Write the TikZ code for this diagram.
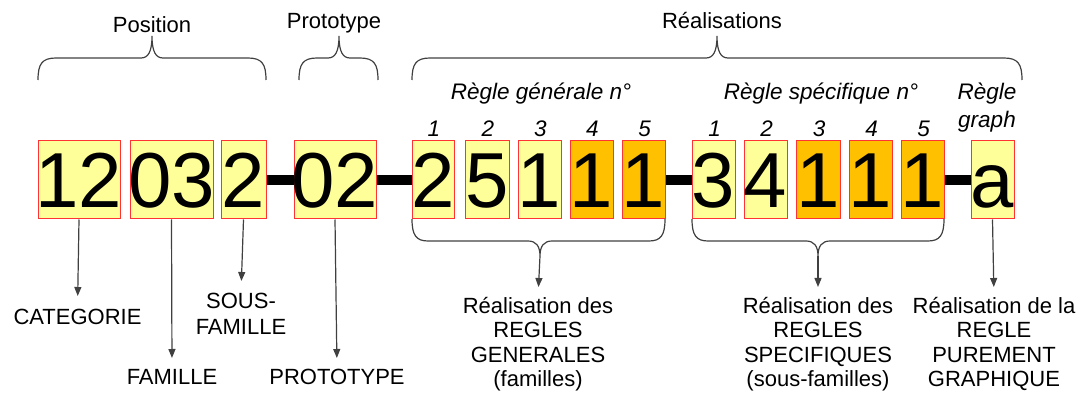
\documentclass[tikz,border=0pt]{standalone}
\usepackage{fontspec}
\setmainfont{Liberation Sans}
\usetikzlibrary{arrows.meta}
\definecolor{lyel}{HTML}{FFFF99}
\definecolor{orng}{HTML}{FFC000}
\definecolor{boxred}{HTML}{FF3333}
\definecolor{lgray}{HTML}{404040}
\newcommand\dg[1]{\makebox[0pt]{#1}}
\newcommand\tbrace[3]{%
  \draw[brace] (#1,80) .. controls (#1,64) and (#1+4,58) .. (#1+18,58) -- (#2-11,58)
    .. controls (#2-4,58) and (#2,52) .. (#2,36)
    .. controls (#2,52) and (#2+4,58) .. (#2+11,58) -- (#3-18,58)
    .. controls (#3-4,58) and (#3,64) .. (#3,80);}
\newcommand\bbrace[3]{%
  \draw[brace] (#1,219) .. controls (#1,235) and (#1+4,241) .. (#1+16,241) -- (#2-12,241)
    .. controls (#2-4,241) and (#2,246) .. (#2,256)
    .. controls (#2,246) and (#2+4,241) .. (#2+12,241) -- (#3-16,241)
    .. controls (#3-4,241) and (#3,235) .. (#3,219);}
\begin{document}
\begin{tikzpicture}[x=1pt,y=-1pt,
  box/.style={draw=boxred, line width=1pt, fill=lyel, inner sep=0pt,
    minimum height=78pt, text height=56pt, text depth=0pt,
    font=\fontsize{78}{78}\selectfont},
  obox/.style={box, fill=orng},
  bar/.style={line width=10pt, black},
  lab/.style={font=\fontsize{22}{24.5}\selectfont, inner sep=0pt, align=center, anchor=north},
  ttl/.style={font=\fontsize{22}{24}\selectfont, inner sep=0pt, anchor=base},
  ital/.style={font=\fontsize{22.5}{24}\selectfont\itshape, inner sep=0pt, anchor=base},
  brace/.style={draw=lgray, line width=1.2pt},
  arr/.style={draw=lgray, line width=1.2pt, -{Triangle[width=7pt,length=9pt]}, shorten >=11pt}]
\useasboundingbox (0,0) rectangle (1082,403);
% boxes
\node[box, minimum width=82pt] (b1) at (79,180) {\dg{12}};
\node[box, minimum width=83pt] (b2) at (171.5,180) {\dg{03}};
\node[box, minimum width=45pt] (b3) at (243.5,180) {\dg{2}};
\node[box, minimum width=82pt] (b4) at (335,180) {\dg{02}};
\node[box, minimum width=42pt] (g1) at (433,180) {\dg{2}};
\node[box, minimum width=44pt] (g2) at (487,180) {\dg{5}};
\node[box, minimum width=43pt] (g3) at (539.5,180) {\dg{1}};
\node[obox, minimum width=43pt] (g4) at (591.5,180) {\dg{1}};
\node[obox, minimum width=43pt] (g5) at (643.5,180) {\dg{1}};
\node[box, minimum width=43pt] (s1) at (713.5,180) {\dg{3}};
\node[box, minimum width=43pt] (s2) at (765.5,180) {\dg{4}};
\node[obox, minimum width=44pt] (s3) at (818,180) {\dg{1}};
\node[obox, minimum width=43pt] (s4) at (870.5,180) {\dg{1}};
\node[obox, minimum width=43pt] (s5) at (922.5,180) {\dg{1}};
\node[box, minimum width=43pt] (ba) at (992.5,180) {\dg{a}};
% bars
\draw[bar] (b3.east) -- (b4.west);
\draw[bar] (b4.east) -- (g1.west);
\draw[bar] (g5.east) -- (s1.west);
\draw[bar] (s5.east) -- (ba.west);
% top braces and titles
\tbrace{38}{152}{266}
\tbrace{299}{339}{378}
\tbrace{412}{717}{1022}
\node[ttl] (tpos) at (152,33) {Position};
\node[ttl] (tpro) at (334,29) {Prototype};
\node[ttl] (trea) at (722,29) {Réalisations};
\node[ital] (rg) at (541,100) {Règle générale n°};
\node[ital] (rs) at (821,100) {Règle spécifique n°};
\node[ital] (rr) at (987,100) {Règle};
\node[ital] (rgr) at (987,128) {graph};
\foreach \n/\x in {1/434,2/488,3/540.5,4/592.5,5/644.5}{
  \node[ital] (ng\n) at (\x,137) {\n};}
\foreach \n/\x in {1/714.5,2/766.5,3/819,4/871.5,5/923.5}{
  \node[ital] (ns\n) at (\x,137) {\n};}
% bottom braces
\bbrace{412}{540}{665}
\bbrace{692}{818}{944}
\coordinate (t1) at (540,256);
\coordinate (t2) at (818,256);
% bottom labels
\node[lab] (cat) at (77.5,309) {CATEGORIE};
\node[lab] (fam) at (172,369) {FAMILLE};
\node[lab, font=\fontsize{22}{26}\selectfont] (sfam) at (241,293) {SOUS-\\FAMILLE};
\node[lab] (proto) at (337,369) {PROTOTYPE};
\node[lab] (r1) at (538,297) {Réalisation des\\REGLES\\GENERALES\\(familles)};
\node[lab] (r2) at (818,297) {Réalisation des\\REGLES\\SPECIFIQUES\\(sous-familles)};
\node[lab] (r3) at (994,297) {Réalisation de la\\REGLE\\PUREMENT\\GRAPHIQUE};
% arrows
\draw[arr, shorten >=13pt] (b1.south) -- (cat.north);
\draw[arr] (b2.south) -- (fam.north);
\draw[arr, shorten >=12pt] (b3.south) -- (sfam.north);
\draw[arr] (b4.south) -- (proto.north);
\draw[arr, shorten >=10pt] (t1) -- (r1.north);
\draw[arr, shorten >=10pt] (t2) -- (r2.north);
\draw[arr, shorten >=10pt] (ba.south) -- (r3.north);
\end{tikzpicture}
\end{document}
